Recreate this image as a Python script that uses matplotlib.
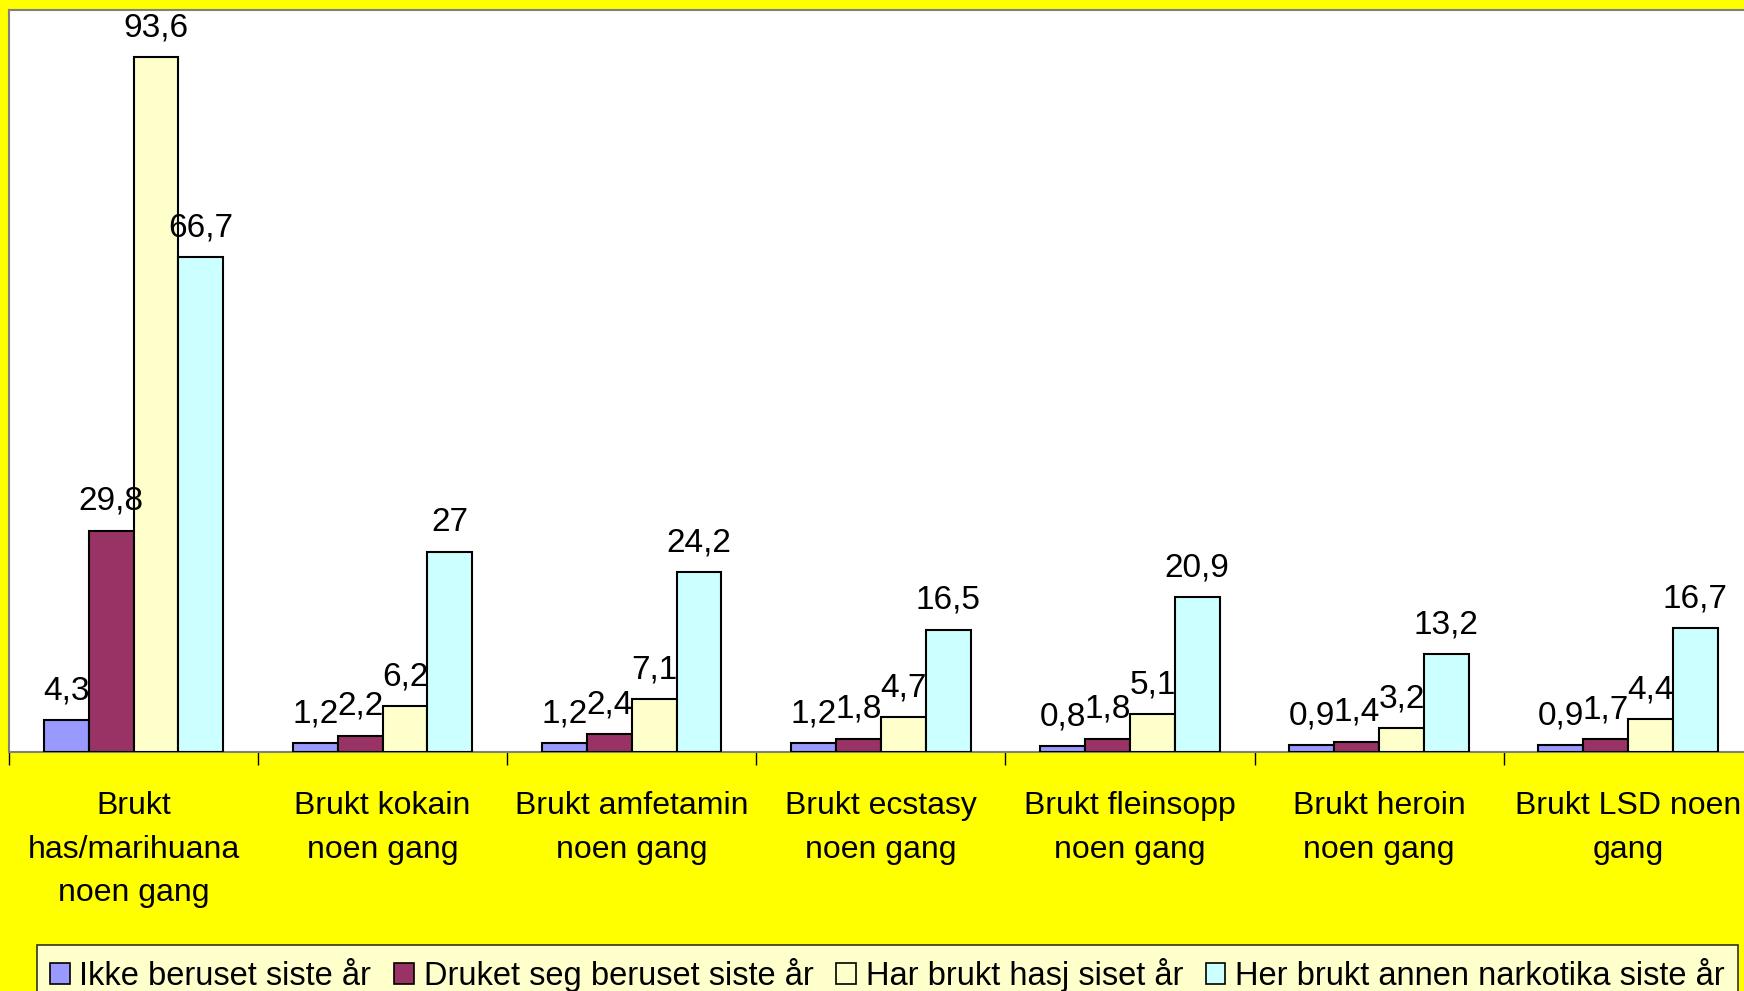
import matplotlib
matplotlib.use("Agg")
import matplotlib.pyplot as plt
import numpy as np

categories = [
    "Brukt\nhas/marihuana\nnoen gang",
    "Brukt kokain\nnoen gang",
    "Brukt amfetamin\nnoen gang",
    "Brukt ecstasy\nnoen gang",
    "Brukt fleinsopp\nnoen gang",
    "Brukt heroin\nnoen gang",
    "Brukt LSD noen\ngang",
]
series_names = [
    "Ikke beruset siste år",
    "Druket seg beruset siste år",
    "Har brukt hasj siset år",
    "Her brukt annen narkotika siste år",
]
ikke_beruset = [4.3, 1.2, 1.2, 1.2, 0.8, 0.9, 0.9]
druket_beruset = [29.8, 2.2, 2.4, 1.8, 1.8, 1.4, 1.7]
brukt_hasj = [93.6, 6.2, 7.1, 4.7, 5.1, 3.2, 4.4]
annen_narkotika = [66.7, 27, 24.2, 16.5, 20.9, 13.2, 16.7]
colors = ["#9999FF", "#993366", "#FFFFCC", "#CCFFFF"]

plt.rcParams["font.family"] = ["Liberation Sans", "DejaVu Sans"]

W, H = 1744, 991
fig = plt.figure(figsize=(W / 100, H / 100), dpi=100, facecolor="#FFFF00")
ax = fig.add_axes([9 / W, (H - 752) / H, 249.1 * 7 / W, (752 - 10) / H])
ax.set_facecolor("white")

x = np.arange(len(categories))
bw = 0.18
all_series = [ikke_beruset, druket_beruset, brukt_hasj, annen_narkotika]
for i, (vals, name, c) in enumerate(zip(all_series, series_names, colors)):
    bars = ax.bar(x + (i - 1.5) * bw, vals, bw, color=c, edgecolor="black",
                  linewidth=1.5, label=name, zorder=3)
    # value labels sit above every bar, drawn over neighbouring bars
    for b, v in zip(bars, vals):
        ax.annotate(f"{v:g}".replace(".", ","), (b.get_x() + b.get_width() / 2, v),
                    xytext=(0, 10), textcoords="offset points",
                    ha="center", va="bottom", fontsize=24, zorder=10)

ax.set_xlim(-0.5, 6.5)
ax.set_ylim(0, 100)
ax.set_yticks([])
ax.set_xticks(x)
ax.set_xticklabels(categories, fontsize=23, linespacing=1.6)
ax.tick_params(axis="x", which="major", length=0, pad=28)
ax.set_xticks(np.arange(-0.5, 7, 1), minor=True)
ax.tick_params(axis="x", which="minor", length=9, width=1, color="black")
for s in ["left", "top", "right", "bottom"]:
    ax.spines[s].set_color("#808080")
    ax.spines[s].set_linewidth(1.5)

leg = fig.legend(loc="upper left", bbox_to_anchor=(37 / W, 1 - 945 / H), ncol=4,
                 fontsize=23.5, frameon=True, fancybox=False, handlelength=0.6,
                 handleheight=0.6, handletextpad=0.3, columnspacing=0.7,
                 borderpad=0.4, borderaxespad=0)
leg.get_frame().set_edgecolor("black")
leg.get_frame().set_linewidth(1.2)
for h in leg.legend_handles:
    h.set_linewidth(1.2)

fig.savefig("out.png", dpi=100, facecolor=fig.get_facecolor())
